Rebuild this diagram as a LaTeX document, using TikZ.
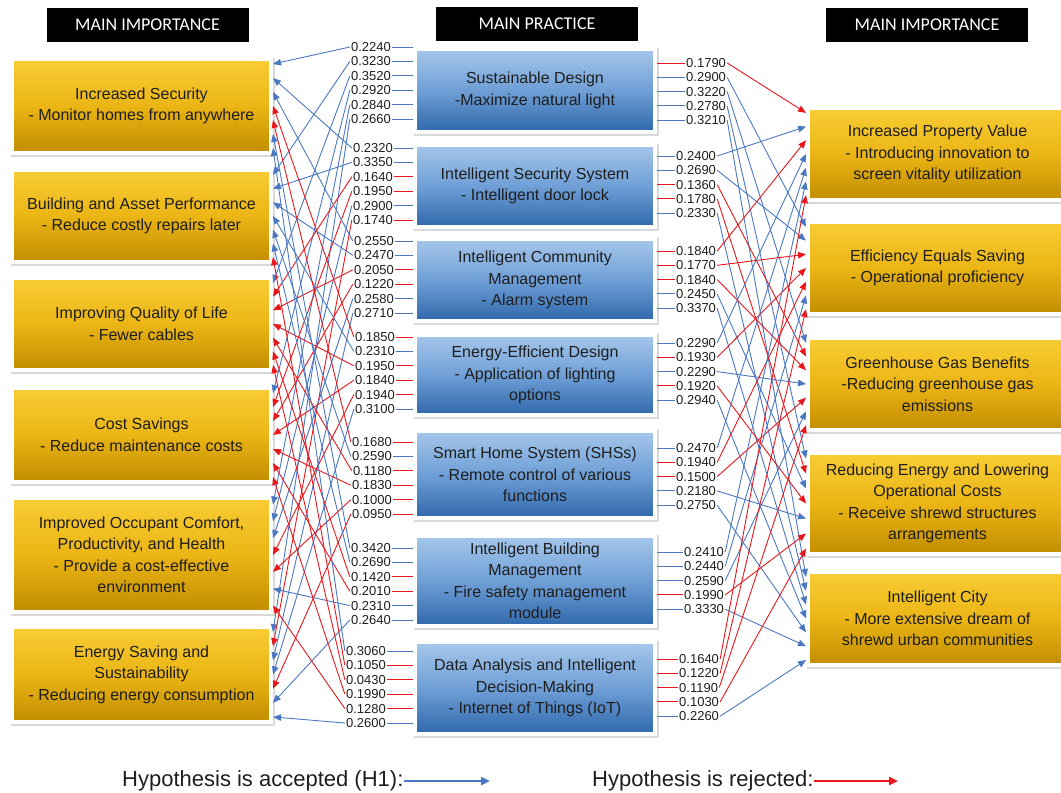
\documentclass[tikz,border=0pt]{standalone}
\usepackage{fontspec}
\setmainfont{Liberation Sans}
\newfontfamily\hdrfont{Carlito}
\usepackage{xcolor}
\definecolor{accblue}{HTML}{4A78C2}
\definecolor{rejred}{HTML}{E8171C}
\definecolor{goldtop}{HTML}{F8CD35}
\definecolor{goldmid}{HTML}{EBB515}
\definecolor{goldbot}{HTML}{C28D00}
\definecolor{bluetop}{HTML}{A6C7EB}
\definecolor{bluemid}{HTML}{6F9FD6}
\definecolor{bluebot}{HTML}{2F68AC}
\definecolor{inkgrey}{HTML}{1E1E1E}
\usepackage{tikz}
\usetikzlibrary{arrows.meta,positioning,calc,shadows}
\newcommand\bxfont{\fontsize{16}{21.5}\selectfont}
\tikzset{
  >={Triangle[length=8pt,width=6.5pt]},
  boxframe/.style={draw=white,line width=4pt,inner sep=0pt,align=center,
                  font=\bxfont,text=inkgrey,
                  drop shadow={shadow xshift=1.5pt,shadow yshift=-1.5pt,opacity=.15,
                               fill=black,draw=black,line width=5pt}},
  impbox/.style ={boxframe,top color=goldtop,bottom color=goldbot,
                  middle color=goldmid,minimum width=259pt},
  pracbox/.style={boxframe,top color=bluetop,bottom color=bluebot,
                  middle color=bluemid,minimum width=240pt},
  hdr/.style    ={fill=black,text=white,font=\hdrfont\fontsize{18}{20}\selectfont,
                  minimum width=202pt,minimum height=34pt,inner sep=0pt},
  lbl/.style    ={font=\fontsize{13}{14}\selectfont,text=inkgrey,inner sep=1pt},
  conn/.style   ={->,line width=0.9pt},
  stub/.style   ={line width=0.9pt},
  leg/.style    ={font=\fontsize{22}{24}\selectfont,text=inkgrey,inner sep=0pt},
  legarr/.style ={-{Triangle[length=9pt,width=8pt]},line width=2.5pt},
}

\begin{document}
\begin{tikzpicture}[x=1pt,y=-1pt]
\useasboundingbox (0,0) rectangle (1061,793);
% headers
\node[hdr] (hdrL) at (147.5,25) {MAIN IMPORTANCE};
\node[hdr] (hdrM) at (537,24) {MAIN PRACTICE};
\node[hdr] (hdrR) at (927,25) {MAIN IMPORTANCE};
% importance boxes (left)
\foreach \i/\y/\h/\t in {
  1/106/94/{Increased Security\\- Monitor homes from anywhere},
  2/216/92/{Building and Asset Performance\\- Reduce costly repairs later},
  3/324/92/{Improving Quality of Life\\- Fewer cables},
  4/435/94/{Cost Savings\\- Reduce maintenance costs},
  5/555/114/{Improved Occupant Comfort,\\Productivity, and Health\\- Provide a cost-effective\\environment},
  6/674.5/95/{Energy Saving and\\Sustainability\\- Reducing energy consumption}}
  {\node[impbox,minimum height=\h] (imp\i) at (141.5,\y) {\t};}
% practice boxes (middle)
\foreach \i/\y/\h/\t in {
  1/90.5/83/{Sustainable Design\\-Maximize natural light},
  2/186/82/{Intelligent Security System\\- Intelligent door lock},
  3/280/82/{Intelligent Community\\Management\\- Alarm system},
  4/375/80/{Energy-Efficient Design\\- Application of lighting\\options},
  5/474.5/87/{Smart Home System (SHSs)\\- Remote control of various\\functions},
  6/581/90/{Intelligent Building\\Management\\- Fire safety management\\module},
  7/688/92/{Data Analysis and Intelligent\\Decision-Making\\- Internet of Things (IoT)}}
  {\node[pracbox,minimum height=\h] (prac\i) at (535,\y) {\t};}
% importance boxes (right)
\foreach \i/\y/\h/\t in {
  1/154/92/{Increased Property Value\\- Introducing innovation to\\screen vitality utilization},
  2/268/92/{Efficiency Equals Saving\\- Operational proficiency},
  3/384/92/{Greenhouse Gas Benefits\\-Reducing greenhouse gas\\emissions},
  4/503.5/101/{Reducing Energy and Lowering\\Operational Costs\\- Receive shrewd structures\\arrangements},
  5/618.5/93/{Intelligent City\\- More extensive dream of\\shrewd urban communities}}
  {\node[impbox,minimum height=\h] (ben\i) at (937.5,\y) {\t};}
% path coefficients, red when below 0.21
\foreach \p/\ly/\lx/\ry/\rx/\lvals/\rvals in {
  1/47/392/63/685/{0.2240,0.3230,0.3520,0.2920,0.2840,0.2660}/{0.1790,0.2900,0.3220,0.2780,0.3210},
  2/148/394/156/675/{0.2320,0.3350,0.1640,0.1950,0.2900,0.1740}/{0.2400,0.2690,0.1360,0.1780,0.2330},
  3/241/395/251/675/{0.2550,0.2470,0.2050,0.1220,0.2580,0.2710}/{0.1840,0.1770,0.1840,0.2450,0.3370},
  4/337/396/343/675/{0.1850,0.2310,0.1950,0.1840,0.1940,0.3100}/{0.2290,0.1930,0.2290,0.1920,0.2940},
  5/442/393/448/675/{0.1680,0.2590,0.1180,0.1830,0.1000,0.0950}/{0.2470,0.1940,0.1500,0.2180,0.2750},
  6/548/392/552/683/{0.3420,0.2690,0.1420,0.2010,0.2310,0.2640}/{0.2410,0.2440,0.2590,0.1990,0.3330},
  7/651/387/659/678/{0.3060,0.1050,0.0430,0.1990,0.1280,0.2600}/{0.1640,0.1220,0.1190,0.1030,0.2260}}
{
  \foreach \v [count=\i] in \lvals {
    \ifdim\v pt<0.21pt\def\clr{rejred}\else\def\clr{accblue}\fi
    \pgfmathsetmacro\yy{\ly+(\i-1)*14.4}
    \node[lbl,anchor=east] (ll-\p-\i) at (\lx,\yy) {\v};
    \draw[stub,draw=\clr] (ll-\p-\i.east) -- (ll-\p-\i.east -| prac\p.west);
    \draw[conn,draw=\clr] (ll-\p-\i.west) --
      ($(imp\i.north east)!{(\p-0.5)/7}!(imp\i.south east)$);
  }
  \foreach \v [count=\i] in \rvals {
    \ifdim\v pt<0.21pt\def\clr{rejred}\else\def\clr{accblue}\fi
    \pgfmathsetmacro\yy{\ry+(\i-1)*14.3}
    \node[lbl,anchor=west] (rl-\p-\i) at (\rx,\yy) {\v};
    \draw[stub,draw=\clr] (rl-\p-\i.west) -- (rl-\p-\i.west -| prac\p.east);
    \draw[conn,draw=\clr] (rl-\p-\i.east) --
      ($(ben\i.north west)!{(\p-0.5)/7}!(ben\i.south west)$);
  }
}
% legend
\node[leg,anchor=base west] (legacc) at (122,786) {Hypothesis is accepted (H1):};
\coordinate (accend) at (490,781);
\draw[legarr,draw=accblue] (legacc.base east |- accend) -- (accend);
\node[leg,anchor=base west] (legrej) at (592,786) {Hypothesis is rejected:};
\coordinate (rejend) at (898,781);
\draw[legarr,draw=rejred] (legrej.base east |- rejend) -- (rejend);
\end{tikzpicture}
\end{document}
